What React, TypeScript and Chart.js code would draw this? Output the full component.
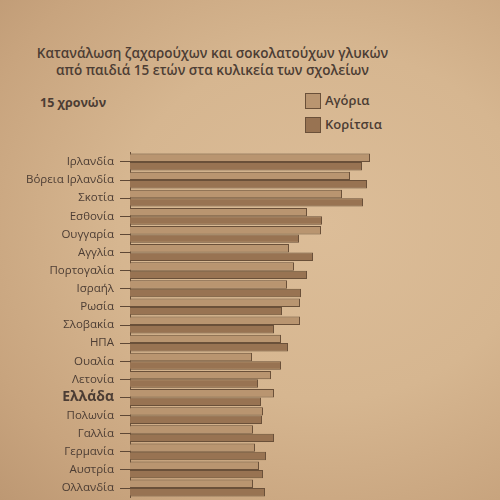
import React, { useEffect, useRef } from "react";
import { Chart, registerables } from "chart.js";

Chart.register(...registerables);

const countries = [
  "Ιρλανδία",
  "Βόρεια Ιρλανδία",
  "Σκοτία",
  "Εσθονία",
  "Ουγγαρία",
  "Αγγλία",
  "Πορτογαλία",
  "Ισραήλ",
  "Ρωσία",
  "Σλοβακία",
  "ΗΠΑ",
  "Ουαλία",
  "Λετονία",
  "Ελλάδα",
  "Πολωνία",
  "Γαλλία",
  "Γερμανία",
  "Αυστρία",
  "Ολλανδία",
];

const boys = [240, 220, 212, 177, 191, 159, 164, 157, 170, 170, 151, 122, 141, 144, 133, 123, 125, 129, 123];
const girls = [232, 237, 233, 192, 169, 183, 177, 171, 152, 144, 158, 151, 128, 131, 132, 144, 136, 133, 135];

const titleLines = [
  "Κατανάλωση ζαχαρούχων και σοκολατούχων γλυκών",
  "από παιδιά 15 ετών στα κυλικεία των σχολείων",
];
const ageLabel = "15 χρονών";
const seriesNames = ["Αγόρια", "Κορίτσια"];

const BOY_COLOR = "#b99570";
const GIRL_COLOR = "#987352";
const BORDER = "#6a5039";
const TEXT = "#4c3d34";
const FONT = "'Open Sans', 'DejaVu Sans', sans-serif";

export default function App() {
  const canvasRef = useRef<HTMLCanvasElement | null>(null);

  useEffect(() => {
    if (!canvasRef.current) return;
    const chart = new Chart(canvasRef.current, {
      type: "bar",
      data: {
        labels: countries,
        datasets: [
          {
            label: seriesNames[0],
            data: boys,
            backgroundColor: BOY_COLOR,
            borderColor: BORDER,
            borderWidth: 1,
            categoryPercentage: 0.93,
            barPercentage: 1.0,
          },
          {
            label: seriesNames[1],
            data: girls,
            backgroundColor: GIRL_COLOR,
            borderColor: BORDER,
            borderWidth: 1,
            categoryPercentage: 0.93,
            barPercentage: 1.0,
          },
        ],
      },
      options: {
        indexAxis: "y",
        animation: false,
        responsive: false,
        maintainAspectRatio: false,
        layout: { padding: { top: 2, bottom: 0, right: 120, left: 0 } },
        plugins: {
          legend: { display: false },
          title: { display: false },
          tooltip: { enabled: false },
        },
        scales: {
          x: {
            display: false,
            min: 0,
            max: 250,
          },
          y: {
            afterFit: (scale: any) => {
              scale.width = 130;
            },
            border: { display: true, color: BORDER, width: 1 },
            grid: {
              display: true,
              drawOnChartArea: false,
              drawTicks: true,
              tickLength: 10,
              color: "#5e4836",
              offset: false,
            },
            ticks: {
              autoSkip: false,
              color: TEXT,
              padding: 6,
              font: (ctx: any) => {
                const lbl = ctx.tick ? ctx.tick.label : "";
                if (lbl === "Ελλάδα") return { family: FONT, size: 14, weight: "bold" };
                return { family: FONT, size: 11.5, weight: "500" };
              },
            },
          },
        },
      },
    });
    return () => chart.destroy();
  }, []);

  const box = (color: string) => ({
    position: "absolute" as const,
    left: 305,
    width: 14,
    height: 14,
    background: color,
    border: `1px solid ${BORDER}`,
  });

  return (
    <div
      style={{
        position: "absolute",
        left: 0,
        top: 0,
        width: 500,
        height: 500,
        overflow: "hidden",
        background:
          "radial-gradient(ellipse at 65% 45%, #dcbd98 0%, #d6b690 45%, #c8a47e 80%, #bd9873 100%)",
        fontFamily: FONT,
        color: TEXT,
      }}
    >
      <div
        style={{
          position: "absolute",
          left: 0,
          width: 425,
          top: 45,
          textAlign: "center",
          fontSize: 13.5,
          fontWeight: 600,
          lineHeight: "17px",
        }}
      >
        <div>{titleLines[0]}</div>
        <div>{titleLines[1]}</div>
      </div>
      <div style={{ position: "absolute", left: 40, top: 94, fontSize: 12.5, fontWeight: 700 }}>{ageLabel}</div>
      <div style={{ ...box(BOY_COLOR), top: 93 }} />
      <div style={{ position: "absolute", left: 325, top: 91, fontSize: 13, fontWeight: 600 }}>{seriesNames[0]}</div>
      <div style={{ ...box(GIRL_COLOR), top: 117 }} />
      <div style={{ position: "absolute", left: 325, top: 115, fontSize: 13, fontWeight: 600 }}>{seriesNames[1]}</div>
      <canvas
        ref={canvasRef}
        width={500}
        height={370}
        style={{ position: "absolute", left: 0, top: 140, width: 500, height: 370 }}
      />
    </div>
  );
}
